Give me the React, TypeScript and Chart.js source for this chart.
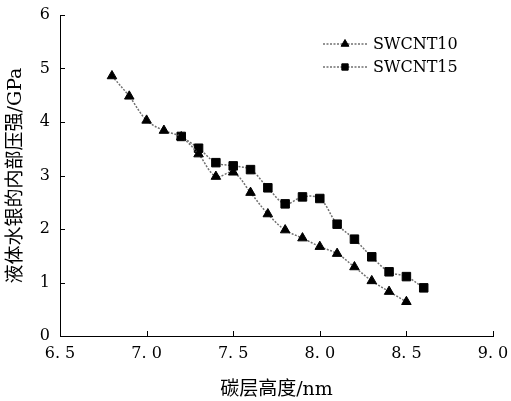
import React, { useEffect, useRef } from 'react';
import { Chart, registerables } from 'chart.js';
import { drawPoint } from 'chart.js/helpers';

Chart.register(...registerables);

// Carbon layer height (nm) and internal pressure of liquid mercury (GPa)
const heights10 = [6.8, 6.9, 7.0, 7.1, 7.2, 7.3, 7.4, 7.5, 7.6, 7.7, 7.8, 7.9, 8.0, 8.1, 8.2, 8.3, 8.4, 8.5];
const pressure10 = [4.86, 4.48, 4.03, 3.84, 3.72, 3.40, 2.98, 3.06, 2.68, 2.28, 1.98, 1.83, 1.67, 1.54, 1.29, 1.03, 0.83, 0.64];
const heights15 = [7.2, 7.3, 7.4, 7.5, 7.6, 7.7, 7.8, 7.9, 8.0, 8.1, 8.2, 8.3, 8.4, 8.5, 8.6];
const pressure15 = [3.73, 3.51, 3.24, 3.18, 3.11, 2.77, 2.47, 2.60, 2.57, 2.09, 1.81, 1.48, 1.20, 1.11, 0.90];
const seriesNames = ['SWCNT10', 'SWCNT15'];
const seriesMarkers = ['triangle', 'rect'];
const xTitle = '碳层高度/nm';
const yTitle = '液体水银的内部压强/GPa';
const xMin = 6.5, xMax = 9.0, xStep = 0.5;
const yMin = 0, yMax = 6, yStep = 1;

const SERIF = "'DejaVu Serif', 'Noto Sans CJK SC', serif";
const LINE_COLOR = '#707070';
const DASH = [2, 1.5];

const inwardTicks = {
  id: 'inwardTicks',
  afterDraw(chart: any) {
    const { ctx } = chart;
    const xs = chart.scales.x;
    const ys = chart.scales.y;
    ctx.save();
    ctx.strokeStyle = '#000';
    ctx.lineWidth = 1;
    ctx.beginPath();
    xs.ticks.forEach((t: any) => {
      const px = Math.round(xs.getPixelForValue(t.value)) + 0.5;
      ctx.moveTo(px, xs.top);
      ctx.lineTo(px, xs.top - 5);
    });
    ys.ticks.forEach((t: any) => {
      const py = Math.round(ys.getPixelForValue(t.value)) + 0.5;
      ctx.moveTo(ys.right, py);
      ctx.lineTo(ys.right + 5, py);
    });
    ctx.stroke();
    ctx.restore();
  },
};

const lineLegend = {
  id: 'lineLegend',
  afterDraw(chart: any) {
    const { ctx, chartArea } = chart;
    const x0 = chartArea.right - 170;
    const x1 = x0 + 44;
    const xm = (x0 + x1) / 2;
    chart.data.datasets.forEach((ds: any, i: number) => {
      const y = chartArea.top + 29 + i * 23;
      ctx.save();
      ctx.strokeStyle = ds.borderColor;
      ctx.lineWidth = 1.5;
      ctx.setLineDash(DASH);
      ctx.beginPath();
      ctx.moveTo(x0, y);
      ctx.lineTo(x1, y);
      ctx.stroke();
      ctx.setLineDash([]);
      ctx.fillStyle = '#000';
      ctx.strokeStyle = '#000';
      ctx.lineWidth = 1;
      drawPoint(ctx, { pointStyle: ds.pointStyle, rotation: 0, radius: 4.5, borderWidth: 1 }, xm, y);
      ctx.fillStyle = '#000';
      ctx.font = `16px ${SERIF}`;
      ctx.textBaseline = 'middle';
      ctx.textAlign = 'left';
      ctx.fillText(ds.label, x1 + 6, y + 1);
      ctx.restore();
    });
  },
};

export default function App() {
  const ref = useRef<HTMLCanvasElement>(null);
  useEffect(() => {
    if (!ref.current) return;
    const mk = (xs: number[], ys: number[]) => xs.map((x, i) => ({ x, y: ys[i] }));
    const allX = [heights10, heights15];
    const allY = [pressure10, pressure15];
    const chart = new Chart(ref.current, {
      type: 'line',
      data: {
        datasets: seriesNames.map((name, i) => ({
          label: name,
          data: mk(allX[i], allY[i]),
          borderColor: LINE_COLOR,
          borderWidth: 1.5,
          borderDash: DASH,
          tension: 0.35,
          pointStyle: seriesMarkers[i],
          pointRadius: i === 0 ? 5.5 : 6,
          pointBackgroundColor: '#000',
          pointBorderColor: '#000',
          pointBorderWidth: 1,
          fill: false,
        })),
      },
      options: {
        responsive: false,
        animation: false,
        devicePixelRatio: 1,
        layout: { padding: { left: 0, top: 15, right: 18, bottom: 0 } },
        plugins: {
          legend: { display: false },
          tooltip: { enabled: false },
        },
        scales: {
          x: {
            type: 'linear',
            min: xMin,
            max: xMax,
            afterFit: (s: any) => { s.height = 65; s.paddingLeft = 0; s.paddingRight = 0; },
            ticks: {
              stepSize: xStep,
              color: '#000',
              font: { family: SERIF, size: 16 },
              padding: 8,
              maxRotation: 0,
              callback: (v: any) => Number(v).toFixed(1).replace('.', '. '),
            },
            grid: { display: true, drawOnChartArea: false, drawTicks: false },
            border: { display: true, color: '#000', width: 1 },
            title: {
              display: true,
              text: xTitle,
              color: '#000',
              font: { family: SERIF, size: 19 },
              padding: { top: 0, bottom: 0 },
            },
          },
          y: {
            type: 'linear',
            min: yMin,
            max: yMax,
            afterFit: (s: any) => { s.width = 60; s.paddingTop = 0; s.paddingBottom = 0; },
            ticks: {
              stepSize: yStep,
              color: '#000',
              font: { family: SERIF, size: 16 },
              padding: 10,
              callback: (v: any) => String(v),
            },
            grid: { display: true, drawOnChartArea: false, drawTicks: false },
            border: { display: true, color: '#000', width: 1 },
            title: {
              display: true,
              text: yTitle,
              color: '#000',
              font: { family: SERIF, size: 19 },
              padding: { top: 5, bottom: 0 },
            },
          },
        },
      },
      plugins: [inwardTicks, lineLegend],
    } as any);
    return () => chart.destroy();
  }, []);
  return (
    <div style={{ position: 'fixed', left: 0, top: 0, width: 511, height: 401, background: '#fff' }}>
      <canvas ref={ref} width={511} height={401} />
    </div>
  );
}
